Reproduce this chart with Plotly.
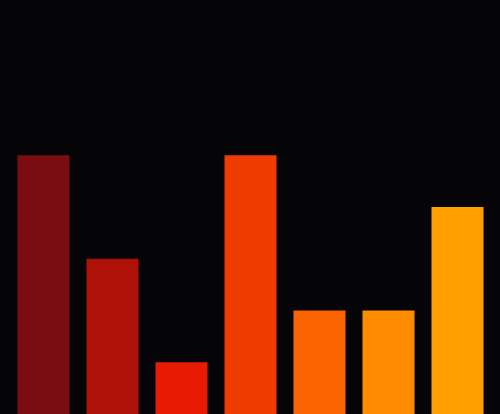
import plotly.graph_objects as go

categories = ["A", "B", "C", "D", "E", "F", "G"]
values = [5, 3, 1, 5, 2, 2, 4]
colors = ["#7a0d10", "#ad1108", "#e81a04", "#ee3c00", "#fb6400", "#ff8c00", "#ffa000"]

fig = go.Figure(go.Bar(x=categories, y=values, marker_color=colors, marker_line_width=0))

fig.update_layout(
    width=500, height=414,
    margin=dict(l=9, r=8, t=0, b=0),
    paper_bgcolor="#050407", plot_bgcolor="#050407",
    bargap=0.246,
    showlegend=False,
)
fig.update_xaxes(visible=False)
fig.update_yaxes(visible=False, range=[0, 8])

# page margin off so the figure fills the window
fig.write_html("out.html", config={"displayModeBar": False},
               post_script="document.body.style.margin='0';")
